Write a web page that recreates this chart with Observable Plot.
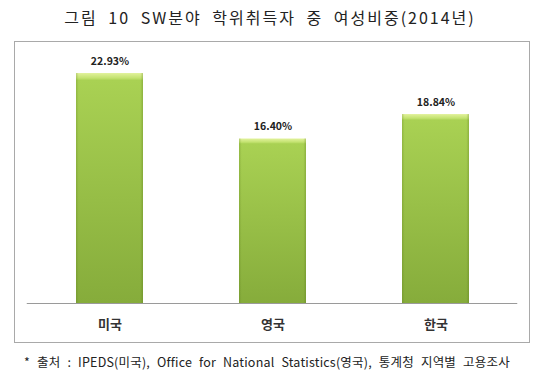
<!DOCTYPE html>
<html>
<head>
<meta charset="utf-8">
<script src="https://cdn.jsdelivr.net/npm/d3@7"></script>
<script src="https://cdn.jsdelivr.net/npm/@observablehq/plot@0.6"></script>
<style>
  html, body { margin: 0; padding: 0; background: #fff; }
  body { width: 540px; height: 371px; overflow: hidden; font-family: "Noto Sans CJK KR", "Noto Sans", sans-serif; }
  #title { height: 41px; line-height: 35px; text-align: center; font-size: 16px; letter-spacing: 2px; word-spacing: 5px; color: #222; white-space: nowrap; }
  #wrap { position: relative; width: 540px; height: 304px; }
  #wrap svg { display: block; }
  #box { position: absolute; left: 14px; top: 0; width: 516px; height: 302px; box-sizing: border-box; border: 1px solid #a9a9a9; pointer-events: none; }
  #caption { font-size: 12.5px; color: #222; padding-left: 24px; line-height: 20px; margin-top: 7px; letter-spacing: 0.2px; word-spacing: 4px; white-space: nowrap; }
</style>
</head>
<body>
<div id="title">그림 10 SW분야 학위취득자 중 여성비중(2014년)</div>
<div id="wrap"><div id="box"></div></div>
<div id="caption">* 출처 : IPEDS(미국), Office for National Statistics(영국), 통계청 지역별 고용조사</div>
<script>
const countries = ["미국", "영국", "한국"];
const shares = [22.93, 16.40, 18.84];
const labels = ["22.93%", "16.40%", "18.84%"];

const data = countries.map((c, i) => ({country: c, value: shares[i], label: labels[i]}));

const chart = Plot.plot({
  width: 540,
  height: 304,
  marginLeft: 26.75,
  marginRight: 22.75,
  marginTop: 11.25,
  marginBottom: 42,
  style: {background: "transparent", fontFamily: "'Noto Sans CJK KR', 'Noto Sans', sans-serif"},
  x: {domain: countries, paddingInner: 0.59, paddingOuter: 0.295, label: null},
  y: {domain: [0, 25], axis: null},
  marks: [
    Plot.barY(data, {x: "country", y: "value", fill: "url(#barGradV)"}),
    Plot.barY(data, {x: "country", y: "value", fill: "url(#barGradH)"}),
    Plot.ruleY([0], {stroke: "#9a9a9a", strokeWidth: 1}),
    Plot.text(data, {x: "country", y: "value", text: "label", dy: -12, fontSize: 10.5, fontWeight: "bold", fill: "#222"}),
    Plot.axisX({tickSize: 0, tickPadding: 16, fontSize: 13, fontWeight: "bold", fill: "#333", label: null})
  ]
});

const svg = d3.select(chart);
const defs = svg.insert("defs", ":first-child");
const gv = defs.append("linearGradient").attr("id", "barGradV").attr("x1", 0).attr("y1", 0).attr("x2", 0).attr("y2", 1);
[["0%", "#e2f29c"], ["2.2%", "#c3e270"], ["3.2%", "#a9d153"], ["100%", "#86ac3b"]].forEach(([o, c]) =>
  gv.append("stop").attr("offset", o).attr("stop-color", c));
const gh = defs.append("linearGradient").attr("id", "barGradH").attr("x1", 0).attr("y1", 0).attr("x2", 1).attr("y2", 0);
[["0%", "rgba(80,110,20,0.25)"], ["4%", "rgba(80,110,20,0)"], ["96%", "rgba(80,110,20,0)"], ["100%", "rgba(80,110,20,0.3)"]].forEach(([o, c]) =>
  gh.append("stop").attr("offset", o).attr("stop-color", c));

document.getElementById("wrap").prepend(chart);
</script>
</body>
</html>
